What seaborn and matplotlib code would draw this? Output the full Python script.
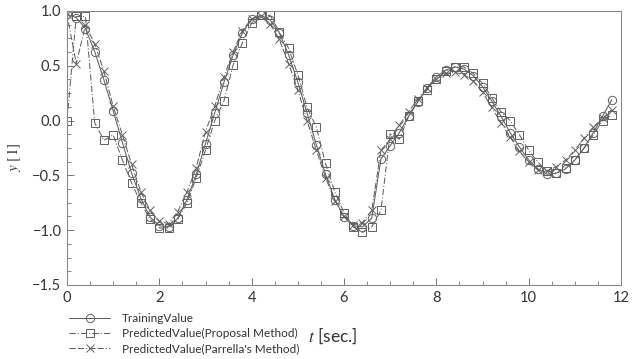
import numpy as np
import pandas as pd
import matplotlib
matplotlib.use("Agg")
import matplotlib.pyplot as plt
from matplotlib.ticker import MultipleLocator
import seaborn as sns

time_s = [0.0, 0.2, 0.4, 0.6, 0.8, 1.0, 1.2, 1.4, 1.6, 1.8,
          2.0, 2.2, 2.4, 2.6, 2.8, 3.0, 3.2, 3.4, 3.6, 3.8,
          4.0, 4.2, 4.4, 4.6, 4.8, 5.0, 5.2, 5.4, 5.6, 5.8,
          6.0, 6.2, 6.4, 6.6, 6.8, 7.0, 7.2, 7.4, 7.6, 7.8,
          8.0, 8.2, 8.4, 8.6, 8.8, 9.0, 9.2, 9.4, 9.6, 9.8,
          10.0, 10.2, 10.4, 10.6, 10.8, 11.0, 11.2, 11.4, 11.6, 11.8]

training = [0.97, 0.94, 0.84, 0.63, 0.37, 0.09, -0.20, -0.48, -0.71, -0.88,
            -0.96, -0.97, -0.89, -0.72, -0.49, -0.21, 0.07, 0.35, 0.60, 0.80,
            0.93, 0.96, 0.92, 0.80, 0.60, 0.35, 0.07, -0.22, -0.49, -0.72,
            -0.88, -0.96, -0.97, -0.89, -0.35, -0.23, -0.11, 0.04, 0.17, 0.30,
            0.40, 0.46, 0.49, 0.47, 0.41, 0.31, 0.18, 0.04, -0.11, -0.24,
            -0.36, -0.44, -0.49, -0.48, -0.44, -0.36, -0.25, -0.11, 0.04, 0.19]

proposal = [0.00, 0.95, 0.95, -0.02, -0.18, -0.13, -0.36, -0.57, -0.75, -0.90,
            -0.98, -0.98, -0.90, -0.75, -0.52, -0.27, 0.00, 0.18, 0.51, 0.71,
            0.89, 0.96, 0.96, 0.81, 0.66, 0.42, 0.12, -0.06, -0.39, -0.65,
            -0.84, -0.97, -1.02, -0.97, -0.82, -0.12, -0.17, 0.04, 0.18, 0.28,
            0.38, 0.45, 0.49, 0.49, 0.43, 0.34, 0.21, 0.08, 0.00, -0.13,
            -0.27, -0.38, -0.46, -0.48, -0.43, -0.36, -0.25, -0.13, 0.00, 0.05]

parrella = [0.97, 0.52, 0.87, 0.70, 0.45, 0.13, -0.13, -0.40, -0.65, -0.82,
            -0.92, -0.94, -0.83, -0.65, -0.43, -0.10, 0.13, 0.40, 0.63, 0.82,
            0.93, 0.95, 0.88, 0.74, 0.52, 0.28, 0.00, -0.27, -0.52, -0.73,
            -0.87, -0.95, -0.93, -0.82, -0.27, -0.17, -0.04, 0.08, 0.20, 0.30,
            0.38, 0.43, 0.44, 0.42, 0.36, 0.26, 0.12, -0.02, -0.15, -0.28,
            -0.38, -0.45, -0.46, -0.42, -0.36, -0.27, -0.16, -0.06, 0.02, 0.10]

labels = ["TrainingValue", "PredictedValue(Proposal Method)", "PredictedValue(Parrella's Method)"]
x_ticks = [0, 2, 4, 6, 8, 10, 12]
y_ticks = [-1.5, -1.0, -0.5, 0.0, 0.5, 1.0]

sns.set_theme(style="white")
plt.rcParams['font.family'] = ['Lato', 'DejaVu Sans']
plt.rcParams['mathtext.fontset'] = 'stix'

fig = plt.figure(figsize=(6.41, 3.59), dpi=100)
ax = fig.add_axes([67/641, 1-285/359, 554/641, 274/359])

col = '#606060'
common = dict(color=col, linewidth=0.75, markeredgecolor=col, markeredgewidth=0.7)
sns.lineplot(x=time_s, y=training, ax=ax, marker='o', markersize=6,
             markerfacecolor='none', linestyle='-', label=labels[0], **common)
sns.lineplot(x=time_s, y=proposal, ax=ax, marker='s', markersize=6,
             markerfacecolor='none', linestyle=(0, (6, 2, 1, 2)), label=labels[1], **common)
sns.lineplot(x=time_s, y=parrella, ax=ax, marker='x', markersize=6,
             linestyle=(0, (6, 2, 6, 2, 1, 2)), label=labels[2], **common)

ax.set_xlim(0, 12)
ax.set_ylim(-1.5, 1.0)
ax.set_xticks(x_ticks)
ax.set_yticks(y_ticks)
ax.set_yticklabels([f"{v:.1f}".replace('-', '\u2212') for v in y_ticks])
ax.xaxis.set_minor_locator(MultipleLocator(0.5))
ax.yaxis.set_minor_locator(MultipleLocator(0.125))
ax.tick_params(axis='both', which='major', direction='in', length=5, width=0.7,
               color='#777777', labelsize=10.5, labelcolor='#333333', pad=4,
               left=True, bottom=True)
ax.tick_params(axis='both', which='minor', direction='in', length=3, width=0.6,
               color='#777777', left=True, bottom=True)
for s in ax.spines.values():
    s.set_color('#888888')
    s.set_linewidth(0.8)

ax.set_xlabel('')
ax.set_ylabel(r'$y$ [1]', fontsize=11, family='STIXGeneral', color='#333333')
ax.yaxis.set_label_coords(-0.08, 0.467)

fig.text(308/641, 1-336/359, r'$t$ [sec.]', fontsize=12.5, color='#333333', ha='left', va='center')

ax.get_legend().remove()
h, l = ax.get_legend_handles_labels()
fig.legend(h, l, loc='upper left', bbox_to_anchor=(62/641, 1-306/359), frameon=False,
           fontsize=8.5, handlelength=3.5, handletextpad=1.0, labelspacing=0.35,
           borderpad=0.1, labelcolor='#333333')

fig.savefig('out.png', dpi=100)
